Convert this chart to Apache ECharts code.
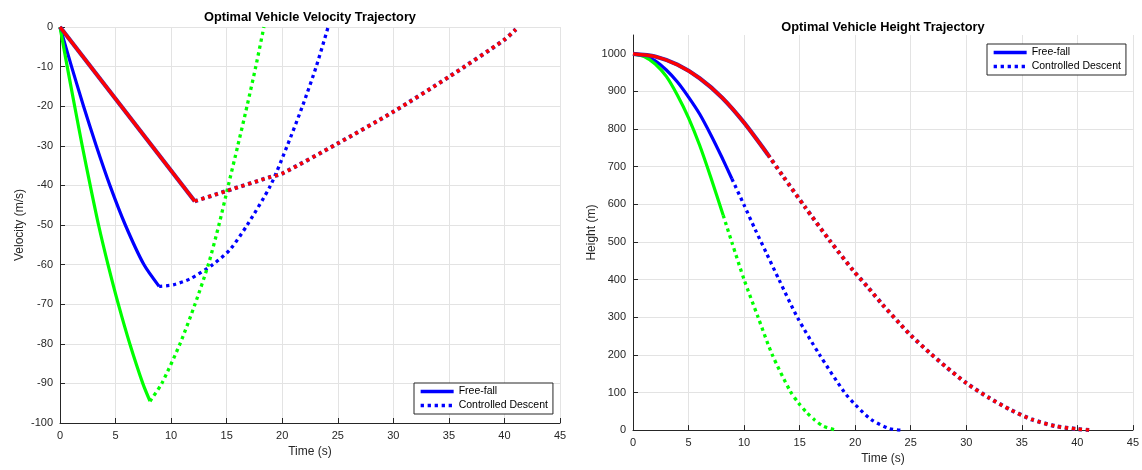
<!DOCTYPE html>
<html>
<head>
<meta charset="utf-8">
<title>Optimal Vehicle Trajectories</title>
<script src="https://cdn.jsdelivr.net/npm/echarts@6/dist/echarts.min.js"></script>
<style>
  html, body { margin: 0; padding: 0; background: #fff; }
  #chart { width: 1142px; height: 470px; }
</style>
</head>
<body>
<div id="chart"></div>
<script>
  // ── axis ticks ──
  var timeTicks = [0, 5, 10, 15, 20, 25, 30, 35, 40, 45];
  var velTicks = [-100, -90, -80, -70, -60, -50, -40, -30, -20, -10, 0];
  var heightTicks = [0, 100, 200, 300, 400, 500, 600, 700, 800, 900, 1000];
  var heightMax = 1050;

  // ── velocity [t, v] ──
  var greenFreeVel = [[0, 0], [0.65, -10], [1.32, -20], [2.0, -30], [2.72, -40], [3.47, -50], [4.32, -60], [5.25, -70], [6.28, -80], [7.45, -90], [8.1, -94.5]];
  var greenCtrlVel = [[8.1, -94.5], [9.16, -90], [10.8, -80], [12.15, -70], [13.35, -60], [14.3, -50], [15.15, -40], [16.0, -30], [16.83, -20], [17.62, -10], [18.35, 0]];
  var blueFreeVel = [[0, 0], [1.04, -10], [2.12, -20], [3.26, -30], [4.49, -40], [5.88, -50], [7.55, -60], [8.92, -65.5]];
  var blueCtrlVel = [[8.92, -65.5], [10.2, -65.1], [11.7, -63.6], [13.75, -60], [15.3, -56.2], [16.85, -50], [18.95, -40], [20.45, -30], [21.82, -20], [23.06, -10], [24.13, 0]];
  var redFreeVel = [[0, 0], [12.13, -44]];
  var redCtrlVel = [[12.13, -44], [15, -41.4], [18.9, -37.9], [20, -37.0], [25, -29.4], [30, -21.4], [35, -12.6], [40, -3.2], [41.03, -0.6]];

  // ── height [t, h] ──
  var greenFreeH = [[0, 1000], [1, 993], [2, 973], [3, 940], [4, 890], [5, 830], [6, 757], [7, 672], [8.12, 571]];
  var greenCtrlH = [[8.12, 571], [8.89, 500], [10, 400], [11.26, 300], [12.54, 200], [14.16, 103], [14.88, 73], [15.6, 48], [16.35, 27], [17.16, 10], [18.29, 0]];
  var blueFreeH = [[0, 1000], [1, 995], [2, 981], [3, 957], [4, 925], [5, 885], [6, 840], [7, 785], [8, 725], [8.9, 668]];
  var blueCtrlH = [[8.9, 668], [10, 598], [11, 533], [12, 471], [13.14, 400], [14.79, 300], [16.8, 200], [19.04, 100], [20, 68], [21.44, 28], [23.08, 4], [24.13, 0]];
  var redFreeH = [[0, 1000], [2, 993], [4, 971], [6, 935], [8, 884], [10, 817], [12.15, 732]];
  var redCtrlH = [[12.15, 732], [13.5, 675], [15.48, 593], [17.7, 504], [19.8, 425], [21.1, 381], [22.48, 333], [23.98, 284], [25, 252], [26.8, 203], [28.14, 169], [30, 125], [32.04, 86], [33.98, 54], [35.93, 28], [38.02, 10.6], [40.06, 2.6], [41.17, 0]];

  var FONT = '"Liberation Sans", Arial, Helvetica, sans-serif';
  var AXIS = '#262626', GRIDC = '#e3e3e3';
  var GREEN = '#00ff00', BLUE = '#0000ff', RED = '#ff0000', EDGE = '#3a2ab8';
  var DOT = [3.3, 3.7];

  function line(name, idx, data, color, width, dash, z) {
    return {
      name: name, type: 'line', xAxisIndex: idx, yAxisIndex: idx,
      data: data, symbol: 'none', smooth: data.length > 2 ? 0.25 : false,
      silent: true, z: z, animation: false,
      lineStyle: { color: color, width: width, type: dash || 'solid', cap: 'butt', join: 'round' },
      itemStyle: { color: color },
      emphasis: { disabled: true }
    };
  }

  function sets(idx, gF, gC, bF, bC, rF, rC) {
    return [
      line('Free-fall', idx, bF, BLUE, 3.2, null, 2),
      line('Controlled Descent', idx, bC, BLUE, 3.3, DOT, 2),
      line('g-ff' + idx, idx, gF, GREEN, 3.2, null, 3),
      line('g-cd' + idx, idx, gC, GREEN, 3.3, DOT, 3),
      line('r-ff-e' + idx, idx, rF, EDGE, 4.2, null, 4),
      line('r-ff' + idx, idx, rF, RED, 3.2, null, 5),
      line('r-cd-e' + idx, idx, rC, EDGE, 4.2, DOT, 4),
      line('r-cd' + idx, idx, rC, RED, 3.3, DOT, 5)
    ];
  }

  function xAx(idx) {
    return {
      type: 'value', gridIndex: idx,
      min: timeTicks[0], max: timeTicks[timeTicks.length - 1], interval: timeTicks[1] - timeTicks[0],
      name: 'Time (s)', nameLocation: 'middle', nameGap: 22,
      nameTextStyle: { fontFamily: FONT, fontSize: 12, color: AXIS },
      axisLine: { onZero: false, lineStyle: { color: AXIS, width: 1 } },
      axisTick: { inside: true, length: 5, lineStyle: { color: AXIS } },
      axisLabel: { margin: 7, fontFamily: FONT, fontSize: 11, color: AXIS },
      splitLine: { show: true, lineStyle: { color: GRIDC, width: 1 } }
    };
  }

  function legend(left, top) {
    return {
      data: ['Free-fall', 'Controlled Descent'],
      orient: 'vertical', left: left, top: top,
      itemWidth: 33, itemHeight: 10, itemGap: 3,
      padding: [3, 5, 3, 5],
      backgroundColor: '#fff', borderColor: AXIS, borderWidth: 1,
      textStyle: { fontFamily: FONT, fontSize: 10.5, color: '#000' },
      itemStyle: { opacity: 0 },
      lineStyle: { width: 3.3 },
      selectedMode: false
    };
  }

  var chart = echarts.init(document.getElementById('chart'), null, { renderer: 'canvas' });
  chart.setOption({
    backgroundColor: '#fff',
    animation: false,
    graphic: [
      { type: 'text', x: 310, y: 17, style: { text: 'Optimal Vehicle Velocity Trajectory', font: 'bold 12.8px ' + FONT, fill: '#000', align: 'center', verticalAlign: 'middle' } },
      { type: 'text', x: 883, y: 27, style: { text: 'Optimal Vehicle Height Trajectory', font: 'bold 12.8px ' + FONT, fill: '#000', align: 'center', verticalAlign: 'middle' } }
    ],
    grid: [
      { left: 60, top: 27, width: 500, height: 396 },
      { left: 633, top: 35, width: 501, height: 397 }
    ],
    legend: [legend(414, 383), legend(987, 44)],
    xAxis: [xAx(0), xAx(1)],
    yAxis: [
      {
        type: 'value', gridIndex: 0,
        min: velTicks[0], max: velTicks[velTicks.length - 1], interval: velTicks[1] - velTicks[0],
        name: 'Velocity (m/s)', nameLocation: 'middle', nameGap: 34,
        nameTextStyle: { fontFamily: FONT, fontSize: 12, color: AXIS },
        axisLine: { lineStyle: { color: AXIS, width: 1 } },
        axisTick: { inside: true, length: 5, lineStyle: { color: AXIS } },
        axisLabel: { margin: 7, fontFamily: FONT, fontSize: 11, color: AXIS },
        splitLine: { show: true, lineStyle: { color: GRIDC, width: 1 } }
      },
      {
        type: 'value', gridIndex: 1,
        min: heightTicks[0], max: heightMax, interval: heightTicks[1] - heightTicks[0],
        name: 'Height (m)', nameLocation: 'middle', nameGap: 35,
        nameTextStyle: { fontFamily: FONT, fontSize: 12, color: AXIS },
        axisLine: { lineStyle: { color: AXIS, width: 1 } },
        axisTick: { inside: true, length: 5, lineStyle: { color: AXIS }, customValues: heightTicks },
        axisLabel: { margin: 7, fontFamily: FONT, fontSize: 11, color: AXIS, showMaxLabel: false,
          formatter: function (v) { return String(v); } },
        splitLine: { show: true, showMaxLine: false, lineStyle: { color: GRIDC, width: 1 } }
      }
    ],
    series: [].concat(
      sets(0, greenFreeVel, greenCtrlVel, blueFreeVel, blueCtrlVel, redFreeVel, redCtrlVel),
      sets(1, greenFreeH, greenCtrlH, blueFreeH, blueCtrlH, redFreeH, redCtrlH)
    )
  });
</script>
</body>
</html>
